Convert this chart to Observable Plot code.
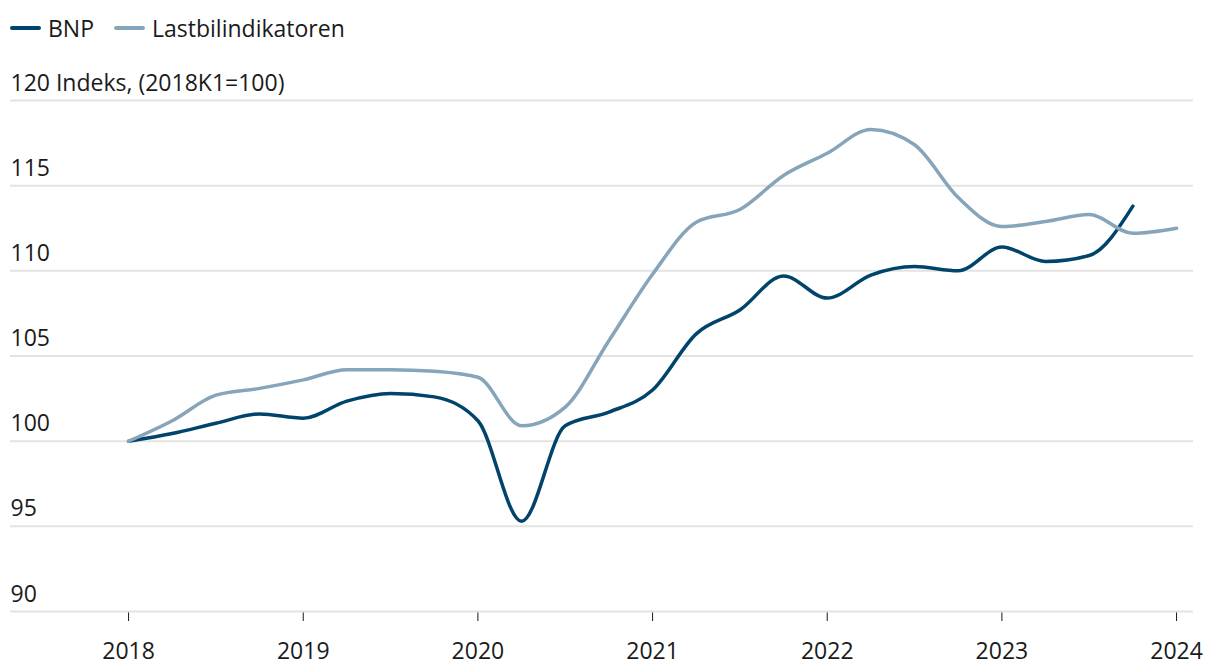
<!DOCTYPE html>
<html><head><meta charset="utf-8">
<script src="https://cdn.jsdelivr.net/npm/d3@7"></script>
<script src="https://cdn.jsdelivr.net/npm/@observablehq/plot@0.6"></script>
<style>
body{margin:0;background:#fff;font-family:"Open Sans",Lato,sans-serif;}
#wrap{position:relative;width:1220px;height:670px;}
#legend{position:absolute;left:10px;top:12px;display:flex;align-items:center;font-size:23px;color:#1a1a1a;}
.sw{display:inline-block;width:31px;height:4px;border-radius:2px;margin-right:7px;}
.item{display:flex;align-items:center;margin-right:20px;}
#chart{position:absolute;left:0;top:60px;}
</style></head>
<body><div id="wrap"><div id="legend"></div><div id="chart"></div></div>
<script>
const quarters = ["2018K1","2018K2","2018K3","2018K4","2019K1","2019K2","2019K3","2019K4","2020K1","2020K2","2020K3","2020K4","2021K1","2021K2","2021K3","2021K4","2022K1","2022K2","2022K3","2022K4","2023K1","2023K2","2023K3","2023K4","2024K1"];
const bnp = [100,100.45,101.05,101.6, 101.35,102.35,102.8,102.6, 101.2,95.3,100.9,101.7, 103.0,106.3,107.7,109.7, 108.4,109.75,110.25,110.0, 111.4,110.55,110.9,113.8];
const lastbil = [100,101.2,102.7,103.1, 103.6,104.2,104.2,104.1, 103.75,100.9,102.0,105.9, 109.8,112.85,113.6,115.6, 116.9,118.3,117.4,114.3, 112.6,112.9,113.3,112.2, 112.5];
const seriesNames = ["BNP","Lastbilindikatoren"];
const seriesColors = ["#00446b","#86a5ba"];
const yTicks = [90,95,100,105,110,115,120];
const yTickLabels = ["90","95","100","105","110","115","120 Indeks, (2018K1=100)"];
const xTicks = [2018,2019,2020,2021,2022,2023,2024];

const qx = q => +q.slice(0,4) + (+q.slice(5)-1)/4;
const rows = [];
bnp.forEach((v,i)=>rows.push({x:qx(quarters[i]), y:v, s:seriesNames[0]}));
lastbil.forEach((v,i)=>rows.push({x:qx(quarters[i]), y:v, s:seriesNames[1]}));

const leg = document.getElementById("legend");
seriesNames.forEach((n,i)=>{
  const it=document.createElement("div");it.className="item";
  it.innerHTML=`<span class="sw" style="background:${seriesColors[i]}"></span><span>${n}</span>`;
  leg.appendChild(it);
});

const chart = Plot.plot({
  width:1220, height:610,
  marginLeft:10, marginRight:27, marginTop:40, marginBottom:59,
  style:{fontFamily:"'Open Sans', Lato, sans-serif", fontSize:"23px", color:"#1a1a1a", background:"#fff"},
  x:{domain:[2017.324,2024.097], ticks:xTicks, tickFormat:"d", tickSize:10, tickPadding:21, label:null},
  y:{domain:[90,120], axis:null},
  color:{domain:seriesNames, range:seriesColors},
  marks:[
    Plot.ruleY(yTicks,{stroke:"#e3e3e3", strokeWidth:2}),
    Plot.text(yTicks,{y:d=>d, text:(d,i)=>yTickLabels[i], frameAnchor:"left", textAnchor:"start", lineAnchor:"bottom", dy:-10, fill:"#1a1a1a", fontSize:23}),
    Plot.line(rows,{x:"x", y:"y", stroke:"s", z:"s", curve:"monotone-x", strokeWidth:3.5})
  ]
});
document.getElementById("chart").appendChild(chart);
</script></body></html>
